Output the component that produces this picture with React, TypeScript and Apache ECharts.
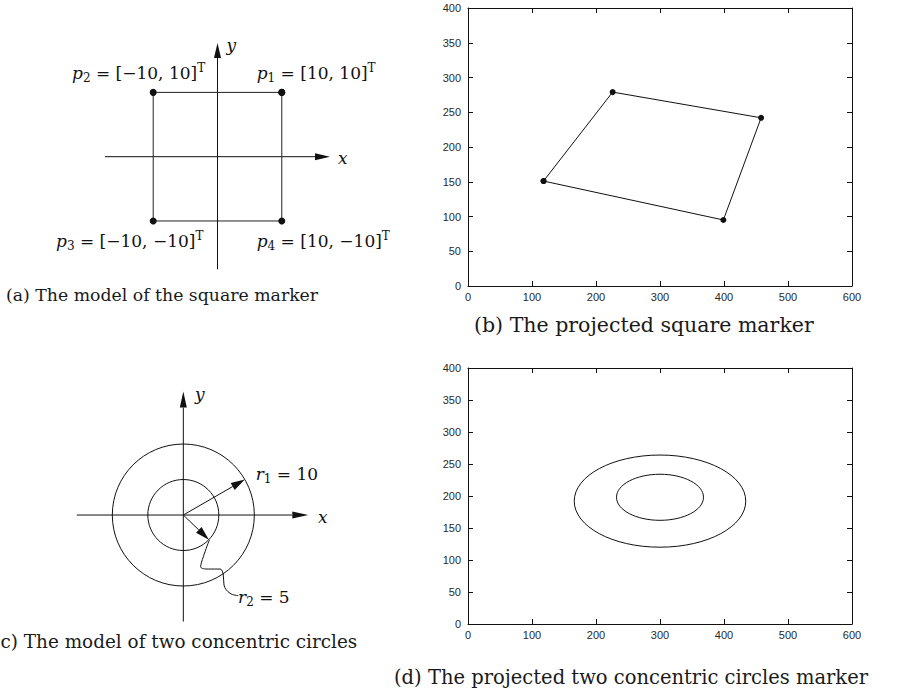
import React, { useEffect, useRef } from "react";
import * as echarts from "echarts";

// ---------- data ----------
// (a) model of the square marker (model units)
const squareModelX = [10, -10, -10, 10];
const squareModelY = [10, 10, -10, -10];
// model axes of (a): [x1, y1, x2, y2]
const modelAxesA = [
  [-17.5, 0, 17.5, 0],
  [0, -17.5, 0, 17.7],
];
// (b) projected square marker (image pixels)
const projSquareX = [118, 226, 458, 399];
const projSquareY = [151, 279, 242, 95];
// (c) model of two concentric circles
const circleRadii = [10, 5];
const modelAxesC = [
  [-15, 0, 17.6, 0],
  [0, -15, 0, 17.4],
];
const radiusArrows = [
  [0, 0, 8.66, 5],
  [0, 0, 3.6, -3.47],
];
const leaderX = [3.66, 2.82, 2.45, 3.52, 5.17, 5.63, 5.73, 6.58, 7.75];
const leaderY = [-3.52, -5.87, -7.28, -7.61, -7.61, -8.45, -9.86, -11.03, -11.36];
// (d) projected concentric circles (ellipses): centre and semi-axes
const ellipseCx = [300, 300];
const ellipseCy = [192, 198];
const ellipseRx = [134, 68];
const ellipseRy = [72, 36];
// axis ranges of the projected plots
const projXMin = 0, projXMax = 600, projXStep = 100;
const projYMin = 0, projYMax = 400, projYStep = 50;

const SERIF = "DejaVu Serif";
const SANS = "Liberation Sans";
const INK = "#111";

const rich = {
  i: { fontFamily: SERIF, fontStyle: "italic", fontSize: 17, lineHeight: 22, fill: INK },
  n: { fontFamily: SERIF, fontSize: 17, lineHeight: 22, fill: INK },
  sub: { fontFamily: SERIF, fontSize: 12, lineHeight: 14, verticalAlign: "bottom", fill: INK },
  sup: { fontFamily: SERIF, fontSize: 12, lineHeight: 12, verticalAlign: "top", fill: INK },
};

function mathText(x: number, y: number, text: string) {
  return {
    type: "text",
    x,
    y,
    style: { text, rich, fill: INK, align: "left", verticalAlign: "middle", font: `17px "${SERIF}"` },
  };
}
function caption(x: number, y: number, text: string, size: number) {
  return {
    type: "text",
    x,
    y,
    style: { text, fill: "#1a1a1a", align: "left", verticalAlign: "middle", fontFamily: SERIF, fontSize: size },
  };
}

function ellipseRender(params: any, api: any) {
  const c = api.coord([api.value(0), api.value(1)]);
  const s = api.size([api.value(2), api.value(3)]);
  return {
    type: "ellipse",
    shape: { cx: c[0], cy: c[1], rx: s[0], ry: s[1] },
    style: { fill: "none", stroke: INK, lineWidth: 1 },
  };
}

function arrowRender(headLen: number, halfW: number) {
  return (params: any, api: any) => {
    const p0 = api.coord([api.value(0), api.value(1)]);
    const p1 = api.coord([api.value(2), api.value(3)]);
    const dx = p1[0] - p0[0];
    const dy = p1[1] - p0[1];
    const len = Math.hypot(dx, dy) || 1;
    const ux = dx / len;
    const uy = dy / len;
    const bx = p1[0] - ux * headLen;
    const by = p1[1] - uy * headLen;
    return {
      type: "group",
      children: [
        { type: "line", shape: { x1: p0[0], y1: p0[1], x2: bx, y2: by }, style: { stroke: INK, lineWidth: 1 } },
        {
          type: "polygon",
          shape: {
            points: [
              [p1[0], p1[1]],
              [bx - uy * halfW, by + ux * halfW],
              [bx + uy * halfW, by - ux * halfW],
            ],
          },
          style: { fill: INK },
        },
      ],
    };
  };
}

function frameAxes(gridIndex: number, kind: "x" | "y") {
  const common = {
    gridIndex,
    type: "value",
    axisLine: { show: true, onZero: false, lineStyle: { color: "#111", width: 1 } },
    axisTick: { show: true, inside: true, length: 5, lineStyle: { color: "#111", width: 1 } },
    splitLine: { show: false },
  };
  const labelStyle = { fontFamily: SANS, fontSize: 11, color: "#2a2a2a" };
  if (kind === "x") {
    return [
      { ...common, position: "bottom", min: projXMin, max: projXMax, interval: projXStep, axisLabel: { ...labelStyle, margin: 5 } },
      { ...common, position: "top", min: projXMin, max: projXMax, interval: projXStep, axisLabel: { show: false } },
    ];
  }
  return [
    { ...common, position: "left", min: projYMin, max: projYMax, interval: projYStep, axisLabel: { ...labelStyle, margin: 7 } },
    { ...common, position: "right", min: projYMin, max: projYMax, interval: projYStep, axisLabel: { show: false } },
  ];
}

export default function App() {
  const ref = useRef<HTMLDivElement>(null);
  useEffect(() => {
    if (!ref.current) return;
    const chart = echarts.init(ref.current, null, { renderer: "svg" });

    const closed = (xs: number[], ys: number[]) => {
      const pts = xs.map((x, i) => [x, ys[i]]);
      pts.push([xs[0], ys[0]]);
      return pts;
    };

    const option: any = {
      animation: false,
      backgroundColor: "#fff",
      grid: [
        { left: 468, top: 8, width: 384, height: 278, outerBoundsMode: "none" },
        { left: 468, top: 368, width: 384, height: 256, outerBoundsMode: "none" },
        { left: 105, top: 42.9, width: 225, height: 226.3, outerBoundsMode: "none" },
        { left: 76.8, top: 391.5, width: 231.5, height: 230, outerBoundsMode: "none" },
      ],
      xAxis: [
        ...frameAxes(0, "x"),
        ...frameAxes(1, "x"),
        { gridIndex: 2, type: "value", min: -17.5, max: 17.5, show: false },
        { gridIndex: 3, type: "value", min: -15, max: 17.6, show: false },
      ],
      yAxis: [
        ...frameAxes(0, "y"),
        ...frameAxes(1, "y"),
        { gridIndex: 2, type: "value", min: -17.5, max: 17.7, show: false },
        { gridIndex: 3, type: "value", min: -15, max: 17.4, show: false },
      ],
      series: [
        {
          name: "projected square",
          type: "line",
          xAxisIndex: 0,
          yAxisIndex: 0,
          data: closed(projSquareX, projSquareY),
          symbol: "circle",
          symbolSize: 6,
          lineStyle: { color: INK, width: 1 },
          itemStyle: { color: INK },
          silent: true,
        },
        {
          name: "projected circles",
          type: "custom",
          xAxisIndex: 2,
          yAxisIndex: 2,
          data: ellipseCx.map((cx, i) => [cx, ellipseCy[i], ellipseRx[i], ellipseRy[i]]),
          renderItem: ellipseRender,
          silent: true,
        },
        {
          name: "square model",
          type: "line",
          xAxisIndex: 4,
          yAxisIndex: 4,
          data: closed(squareModelX, squareModelY),
          symbol: "circle",
          symbolSize: 7,
          lineStyle: { color: "#222", width: 1 },
          itemStyle: { color: INK },
          silent: true,
        },
        {
          name: "model axes a",
          type: "custom",
          xAxisIndex: 4,
          yAxisIndex: 4,
          data: modelAxesA,
          renderItem: arrowRender(15, 3.5),
          silent: true,
        },
        {
          name: "circles model",
          type: "custom",
          xAxisIndex: 5,
          yAxisIndex: 5,
          data: circleRadii.map((r) => [0, 0, r, r]),
          renderItem: ellipseRender,
          silent: true,
        },
        {
          name: "model axes c",
          type: "custom",
          xAxisIndex: 5,
          yAxisIndex: 5,
          data: modelAxesC,
          renderItem: arrowRender(16, 3.5),
          silent: true,
        },
        {
          name: "radius arrows",
          type: "custom",
          xAxisIndex: 5,
          yAxisIndex: 5,
          data: radiusArrows,
          renderItem: arrowRender(14, 4),
          silent: true,
        },
        {
          name: "r2 leader",
          type: "line",
          xAxisIndex: 5,
          yAxisIndex: 5,
          data: leaderX.map((x, i) => [x, leaderY[i]]),
          smooth: 0.4,
          showSymbol: false,
          symbol: "none",
          lineStyle: { color: INK, width: 1 },
          silent: true,
        },
      ],
      graphic: [
        // (a) labels
        mathText(226.5, 45, "{i|y}"),
        mathText(338, 158, "{i|x}"),
        mathText(72, 73.4, "{i|p}{sub|2}{n| = [−10, 10]}{sup|T}"),
        mathText(256.7, 73.4, "{i|p}{sub|1}{n| = [10, 10]}{sup|T}"),
        mathText(56, 240.8, "{i|p}{sub|3}{n| = [−10, −10]}{sup|T}"),
        mathText(256.7, 240.8, "{i|p}{sub|4}{n| = [10, −10]}{sup|T}"),
        // (c) labels
        mathText(195, 394, "{i|y}"),
        mathText(318, 517.4, "{i|x}"),
        mathText(255.7, 474, "{i|r}{sub|1}{n| = 10}"),
        mathText(238, 597, "{i|r}{sub|2}{n| = 5}"),
        // captions
        caption(6, 295, "(a) The model of the square marker", 17.3),
        caption(474, 325, "(b) The projected square marker", 20.5),
        caption(0.5, 641, "c) The model of two concentric circles", 18.4),
        caption(394, 677.5, "(d) The projected two concentric circles marker", 19.5),
      ],
    };
    chart.setOption(option);
    return () => chart.dispose();
  }, []);
  return (
    <div
      ref={ref}
      style={{ position: "fixed", left: 0, top: 0, width: 898, height: 693, background: "#fff" }}
    />
  );
}
